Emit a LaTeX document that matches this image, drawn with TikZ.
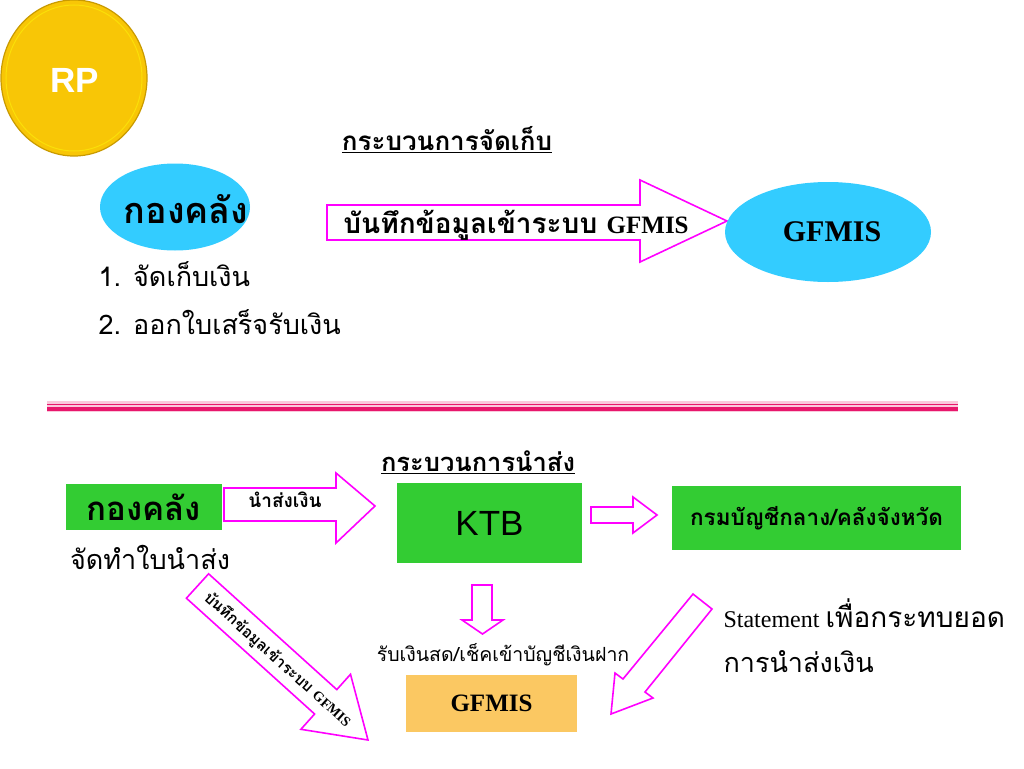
\documentclass[tikz,border=0pt]{standalone}
\usepackage{fontspec}
\setmainfont{Liberation Serif}
\newfontfamily\thai[Script=Thai]{Loma}
\newfontfamily\arial{Liberation Sans}
\usetikzlibrary{shapes.geometric}
\definecolor{mag}{HTML}{FF00FF}
\definecolor{skyb}{HTML}{33CCFF}
\definecolor{grn}{HTML}{33CC33}
\definecolor{orng}{HTML}{FBC862}
\definecolor{pinkln}{HTML}{E8176C}
\definecolor{pinkhalo}{HTML}{FAC8DC}
\definecolor{gold}{HTML}{F8C606}
\definecolor{golddark}{HTML}{C99A00}
\newcommand{\fs}[1]{\fontsize{#1}{#1}\selectfont}
\begin{document}
\begin{tikzpicture}[x=1pt,y=-1pt,
  marrow/.style={draw=mag, line width=1.6pt, fill=white, line join=miter},
  thaib/.style={font=\thai\bfseries\fs{#1}},
  thair/.style={font=\thai\fs{#1}},
  gbox/.style={fill=grn, inner sep=0pt},
  bell/.style={ellipse, fill=skyb, inner sep=0pt}]
\useasboundingbox (0,0) rectangle (1024,768);
\fill[white] (0,0) rectangle (1024,768);

% coin
\node[ellipse, fill=gold, draw=golddark, line width=1.2pt, minimum width=146pt, minimum height=156pt, inner sep=0pt] (coin) at (74,78) {};
\node[ellipse, draw=yellow!60!gold, line width=1pt, minimum width=136pt, minimum height=146pt, inner sep=0pt] (coinring) at (74,78) {};
\node[font=\arial\bfseries\fs{35}, text=white] (rp) at (75,80) {RP};

% top section
\node[thaib=26] (title1) at (447,140) {\underline{กระบวนการจัดเก็บ}};
\node[bell, minimum width=150pt, minimum height=87pt] (kk1) at (175,207) {};
\node[thaib=36] (kk1t) at (186,209) {กองคลัง};
\node[thair=27, anchor=west] (l1) at (95,274) {1. จัดเก็บเงิน};
\node[thair=27, anchor=west] (l2) at (95,322) {2. ออกใบเสร็จรับเงิน};

\draw[marrow] (327,205) -- (640,205) -- (640,180) -- (727,221) -- (640,262) -- (640,240) -- (327,240) -- cycle;
\node[thaib=28] (a1t) at (516,225) {บันทึกข้อมูลเข้าระบบ {\rmfamily\fs{25}GFMIS}};

\node[bell, minimum width=206pt, minimum height=100pt] (g1) at (828,232) {};
\node[font=\bfseries\fs{30}] (g1t) at (832,232) {GFMIS};

% divider
\fill[pinkhalo] (47,401) rectangle (958,412);
\draw[pinkln, line width=1.5pt] (47,404.5) -- (958,404.5);
\draw[pinkln, line width=3.5pt] (47,409) -- (958,409);

% bottom section
\node[thaib=25.5] (title2) at (478,462) {\underline{กระบวนการนำส่ง}};

\node[gbox, minimum width=156pt, minimum height=46pt, thaib=33] (kk2) at (144,507) {กองคลัง};
\node[thair=27] (kk2s) at (150,557) {จัดทำใบนำส่ง};

\draw[marrow] (224,488) -- (336,488) -- (336,473) -- (375,506) -- (336,543) -- (336,521) -- (224,521) -- cycle;
\node[thaib=19] (a2t) at (285,500) {นำส่งเงิน};

\node[gbox, minimum width=185pt, minimum height=80pt, font=\arial\fs{35}] (ktb) at (489.5,523) {KTB};

\draw[marrow] (591,507) -- (633,507) -- (633,497) -- (657,515) -- (633,533) -- (633,523) -- (591,523) -- cycle;

\node[gbox, minimum width=289pt, minimum height=64pt, thaib=22.5] (cgd) at (816.5,518) {กรมบัญชีกลาง/คลังจังหวัด};

\draw[marrow] (472,585) -- (492,585) -- (492,620) -- (503,620) -- (482.5,634) -- (462,620) -- (472,620) -- cycle;
\node[thair=19.5] (rcv) at (503,655) {รับเงินสด/เช็คเข้าบัญชีเงินฝาก};

\node[fill=orng, inner sep=0pt, minimum width=171pt, minimum height=57pt, font=\bfseries\fs{25}] (g2) at (491.5,703.5) {GFMIS};

% right diagonal arrow
\draw[marrow] (693,594) -- (712,609) -- (645,692) -- (653,698) -- (611,714) -- (615,673) -- (623,679) -- cycle;
\node[anchor=west, font=\fs{24}] (stm) at (720,613) {Statement {\thai\fs{28}เพื่อกระทบยอด}};
\node[anchor=west, thair=27] (stm2) at (720,662) {การนำส่งเงิน};

% left diagonal arrow
\draw[marrow] (208.6,573.8) -- (336.8,689.6) -- (350.5,674.3) -- (368,740) -- (300.9,729.3) -- (314.6,714.0) -- (186.4,598.2) -- cycle;
\node[thaib=15.5, rotate=-42] (a3t) at (277.5,660) {บันทึกข้อมูลเข้าระบบ {\rmfamily\fs{14}GFMIS}};
\end{tikzpicture}
\end{document}
